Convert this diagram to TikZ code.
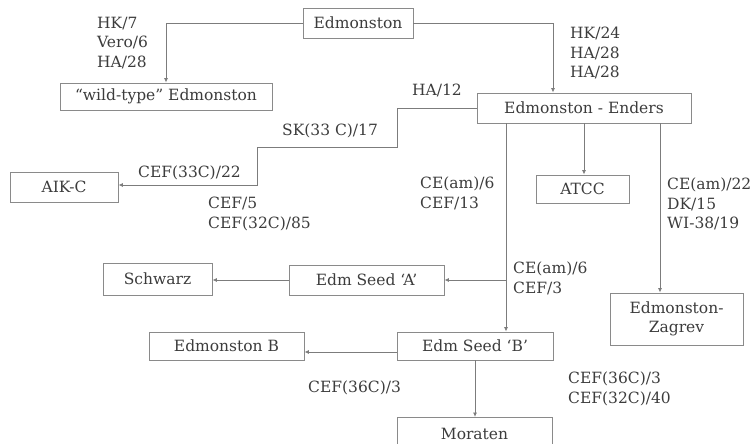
\documentclass[tikz,border=0pt]{standalone}
\usepackage{fontspec}
\setmainfont{DejaVu Serif}
\usetikzlibrary{arrows.meta}
\definecolor{boxline}{HTML}{8A8A8A}
\definecolor{inkgray}{HTML}{3C3C3C}
\begin{document}
\begin{tikzpicture}[x=1pt, y=-1pt,
  box/.style={rectangle, draw=boxline, line width=0.9pt, fill=white, minimum width=#1, minimum height=30pt, inner sep=2pt, align=center, text=inkgray, font=\fontsize{15.5}{19.5}\selectfont},
  lbl/.style={anchor=north west, inner sep=0pt, align=left, text=inkgray, font=\fontsize{15.5}{19.5}\selectfont},
  arr/.style={-{Latex[length=4.5pt, width=4pt]}, boxline!90!black, line width=0.8pt}
]
  \useasboundingbox (0,0) rectangle (755,444);
  \clip (0,0) rectangle (755,444);

  \node[box=110pt] (edm)    at (358,23)    {Edmonston};
  \node[box=212pt, minimum height=27pt] (wild) at (166,96.5) {“wild-type” Edmonston};
  \node[box=214pt] (ee)     at (584,108)   {Edmonston - Enders};
  \node[box=108pt] (aik)    at (64,187)    {AIK-C};
  \node[box=93pt, minimum height=28pt] (atcc) at (582.5,189) {ATCC};
  \node[box=133pt, minimum height=52pt] (zag) at (676.5,319) {Edmonston-\\Zagrev};
  \node[box=155pt] (seedA)  at (366.5,280) {Edm Seed ‘A’};
  \node[box=109pt, minimum height=32pt] (schw) at (157.5,279) {Schwarz};
  \node[box=156pt, minimum height=28pt] (seedB) at (475,346) {Edm Seed ‘B’};
  \node[box=155pt, minimum height=28pt] (edmB) at (226.5,346) {Edmonston B};
  \node[box=155pt, minimum height=34pt, anchor=north] (mor) at (474.5,417) {Moraten};

  \node[lbl] (l1)  at (97,17)   {HK/7\\Vero/6\\HA/28};
  \node[lbl] (l2)  at (570,27)  {HK/24\\HA/28\\HA/28};
  \node[lbl] (l3)  at (412,84)  {HA/12};
  \node[lbl] (l4)  at (282,124) {SK(33 C)/17};
  \node[lbl] (l5)  at (138,166) {CEF(33C)/22};
  \node[lbl] (l6)  at (208,197) {CEF/5\\CEF(32C)/85};
  \node[lbl] (l7)  at (420,177) {CE(am)/6\\CEF/13};
  \node[lbl] (l8)  at (667,178) {CE(am)/22\\DK/15\\WI-38/19};
  \node[lbl] (l9)  at (513,262) {CE(am)/6\\CEF/3};
  \node[lbl] (l10) at (308,381) {CEF(36C)/3};
  \node[lbl] (l11) at (568,372) {CEF(36C)/3\\CEF(32C)/40};

  \coordinate (trunk) at ([xshift=-78pt]ee.south);
  \coordinate (ztop)  at ([xshift=76pt]ee.south);

  \draw[arr] (edm.west) -| (wild.north);
  \draw[arr] (edm.east) -| ([xshift=-31pt]ee.north);
  \draw[arr] (ee.west) -- ++(-79,0) -- ++(0,39) -- ++(-140,0) |- ([yshift=2pt]aik.east);
  \draw[arr] (trunk) -- (trunk |- seedB.north);
  \draw[arr] (trunk |- seedA.east) -- (seedA.east);
  \draw[arr] (ee.south) -- (ee.south |- atcc.north);
  \draw[arr] (ztop) -- (ztop |- zag.north);
  \draw[arr] (seedA.west) -- (seedA.west -| schw.east);
  \draw[arr] ([yshift=-6pt]seedB.west) -- ([yshift=-6pt]edmB.east);
  \draw[arr] (seedB.south) -- (seedB.south |- mor.north);
\end{tikzpicture}
\end{document}
